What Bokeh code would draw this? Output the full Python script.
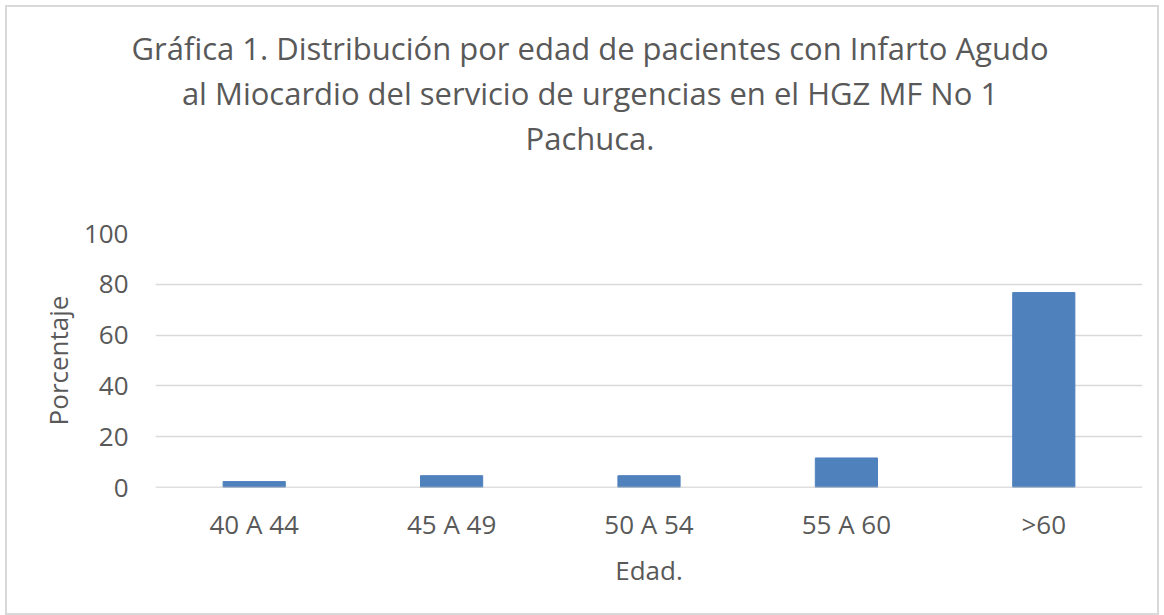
from bokeh.plotting import figure
from bokeh.models import Range1d, FixedTicker, Span, Div
from bokeh.layouts import column
from bokeh.embed import file_html
from bokeh.resources import INLINE

categories = ["40 A 44", "45 A 49", "50 A 54", "55 A 60", ">60"]
porcentaje = [2.33, 4.65, 4.65, 11.63, 76.74]
y_ticks = [0, 20, 40, 60, 80, 100]
title_lines = [
    "Gráfica 1. Distribución por edad de pacientes con Infarto Agudo",
    "al Miocardio del servicio de urgencias en el HGZ MF No 1",
    "Pachuca.",
]

FONT = "Open Sans"
GREY = "#595959"

title_html = (
    '<div style="position:relative; left:8px; top:19px; width:1150px; text-align:center; '
    f'font-family:\'{FONT}\'; font-size:31px; line-height:45px; color:{GREY}; white-space:nowrap;">'
    + "<br>".join(title_lines) + "</div>"
)
title_div = Div(text=title_html, width=1150, height=160, margin=0)

p = figure(x_range=categories, y_range=Range1d(0, 100), width=1150, height=446,
           output_backend="svg", toolbar_location=None, title=None,
           min_border_left=148, min_border_right=15, min_border_top=66,
           min_border_bottom=126, margin=0)

p.vbar(x=categories, top=porcentaje, width=0.315, color="#4f81bd")

p.outline_line_color = None
p.background_fill_color = "white"
p.border_fill_color = "white"

p.xgrid.grid_line_color = None
p.ygrid.grid_line_color = "#d9d9d9"
p.ygrid.grid_line_width = 1.5
p.yaxis.ticker = FixedTicker(ticks=y_ticks)

for ax in (p.xaxis, p.yaxis):
    ax.axis_line_color = None
    ax.major_tick_line_color = None
    ax.minor_tick_line_color = None
    ax.major_label_text_font = FONT
    ax.major_label_text_font_size = "26px"
    ax.major_label_text_color = GREY
    ax.axis_label_text_font = FONT
    ax.axis_label_text_font_size = "26px"
    ax.axis_label_text_color = GREY
    ax.axis_label_text_font_style = "normal"

p.xaxis.axis_label = "Edad."
p.yaxis.axis_label = "Porcentaje"
p.xaxis.major_label_standoff = 12
p.yaxis.major_label_standoff = 21
p.xaxis.axis_label_standoff = 7
p.yaxis.axis_label_standoff = 5

p.add_layout(Span(location=0, dimension="width", line_color="#bfbfbf", line_width=1.5))

layout = column(title_div, p, spacing=0)
layout.styles = {"border": "2px solid #d9d9d9", "margin": "5px 0 0 5px",
                 "background-color": "white"}

open("out.html", "w").write(file_html(layout, INLINE))
